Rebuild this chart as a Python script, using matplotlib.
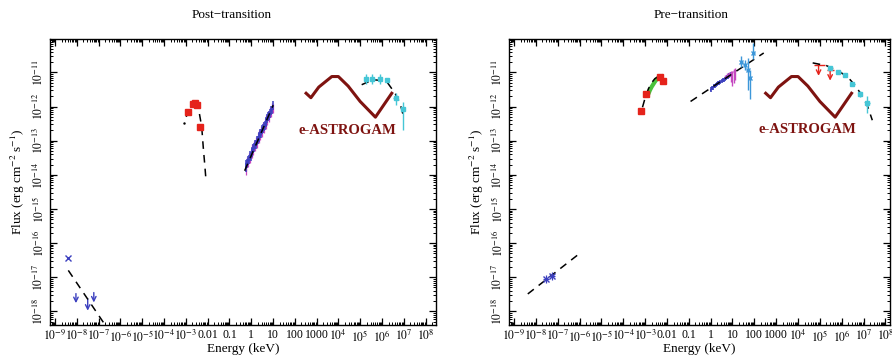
import matplotlib
matplotlib.use('Agg')
import matplotlib.pyplot as plt
from matplotlib.ticker import LogLocator, NullFormatter
import numpy as np

plt.rcParams['font.family'] = ['Liberation Serif', 'DejaVu Serif']
plt.rcParams['mathtext.fontset'] = 'stix'

# all values are log10(E / keV) and log10(flux / erg cm^-2 s^-1)

# ---- post-transition ----
post_radio_x = [-8.39]
post_radio_y = [-16.44]
post_ul_x = [-8.04, -7.50, -7.22]
post_ul_top = [-17.48, -17.63, -17.45]
post_ul_tip = [-17.76, -17.98, -17.74]
post_radio_model_x = [-8.39, -6.71]
post_radio_model_y = [-16.80, -18.39]

post_opt_x = [-2.89, -2.66, -2.58, -2.47, -2.35]
post_opt_y = [-12.15, -11.92, -11.90, -11.95, -12.59]
post_opt_dot_x = [-3.08]
post_opt_dot_y = [-12.48]
post_opt_model_x = [-2.98, -2.85, -2.72, -2.60, -2.50, -2.38, -2.27, -2.20, -2.13, -2.07]
post_opt_model_y = [-12.30, -12.10, -11.98, -11.92, -11.96, -12.19, -12.59, -13.18, -13.70, -14.18]

post_xray_x = [-0.26, -0.22, -0.18, -0.14, -0.10, -0.06, -0.02, 0.02, 0.06, 0.10, 0.14, 0.18,
               0.22, 0.26, 0.30, 0.34, 0.38, 0.42, 0.46, 0.50, 0.54, 0.58, 0.62, 0.66,
               0.70, 0.74, 0.78, 0.82, 0.86, 0.90, 0.94, 0.98]
post_xray_blue = [-13.78, -13.70, -13.66, -13.58, -13.56, -13.44, -13.46, -13.34, -13.30, -13.24,
                  -13.20, -13.10, -13.12, -13.00, -12.98, -12.90, -12.88, -12.78, -12.80, -12.68,
                  -12.64, -12.58, -12.56, -12.46, -12.44, -12.36, -12.30, -12.26, -12.20, -12.12,
                  -12.10, -11.98]
post_xray_mag = [-13.86, -13.74, -13.62, -13.64, -13.50, -13.50, -13.38, -13.36, -13.24, -13.28,
                 -13.14, -13.16, -13.04, -13.06, -12.92, -12.94, -12.82, -12.84, -12.70, -12.74,
                 -12.60, -12.62, -12.50, -12.52, -12.38, -12.40, -12.26, -12.30, -12.16, -12.18,
                 -12.04, -12.06]
post_xray_model_x = [-0.30, 1.01]
post_xray_model_y = [-13.88, -11.96]

post_gam_x = [5.26, 5.56, 5.91, 6.24, 6.63, 6.98]
post_gam_y = [-11.19, -11.19, -11.19, -11.21, -11.75, -12.08]
post_gam_lo = [0.15, 0.15, 0.15, 0.05, 0.20, 0.60]
post_gam_hi = [0.15, 0.15, 0.15, 0.05, 0.15, 0.20]
post_gam_model_x = [5.07, 5.60, 6.21, 6.60, 6.83, 7.01]
post_gam_model_y = [-11.36, -11.21, -11.26, -11.61, -11.90, -12.34]

# ---- pre-transition ----
pre_radio_x = [-7.54, -7.26]
pre_radio_y = [-17.05, -16.97]
pre_radio_model_x = [-8.37, -6.05]
pre_radio_model_y = [-17.49, -16.33]

pre_opt_x = [-3.17, -2.97, -2.33, -2.18]
pre_opt_y = [-12.12, -11.64, -11.12, -11.24]
pre_green_x = [-2.87, -2.78, -2.70, -2.62, -2.55, -2.48, -2.40, -2.33, -2.26]
pre_green_y = [-11.66, -11.52, -11.42, -11.34, -11.27, -11.21, -11.16, -11.14, -11.12]
pre_opt_model_x = [-3.12, -3.00, -2.85, -2.70, -2.55, -2.42, -2.30, -2.20]
pre_opt_model_y = [-12.02, -11.75, -11.48, -11.30, -11.18, -11.13, -11.14, -11.20]

pre_xray_x = [0.00, 0.05, 0.10, 0.15, 0.20, 0.25, 0.30, 0.35, 0.40, 0.45,
              0.50, 0.55, 0.60, 0.65, 0.70, 0.75, 0.80, 0.85, 0.90, 0.95]
pre_xray_y = [-11.50, -11.46, -11.45, -11.41, -11.40, -11.36, -11.35, -11.31, -11.30, -11.27,
              -11.25, -11.22, -11.21, -11.18, -11.16, -11.13, -11.12, -11.09, -11.07, -11.04]
pre_mag_x = [0.68, 0.76, 0.84, 0.92, 1.00, 1.06, 1.12]
pre_mag_y = [-11.12, -11.08, -11.05, -11.02, -11.00, -10.96, -10.93]
pre_mag_lo = [0.05, 0.06, 0.08, 0.25, 0.40, 0.35, 0.30]
pre_bat_x = [1.40, 1.55, 1.70, 1.78, 1.96]
pre_bat_y = [-10.68, -10.78, -10.92, -11.17, -10.43]
pre_bat_lo = [0.15, 0.15, 0.60, 0.60, 0.17]
pre_bat_hi = [0.15, 0.15, 0.35, 0.25, 0.30]
pre_xray_model_x = [-0.92, 2.43]
pre_xray_model_y = [-11.85, -10.43]

pre_ul_x = [4.94, 5.47]
pre_ul_xlo = [4.72, 5.34]
pre_ul_xhi = [5.25, 5.64]
pre_ul_top = [-10.77, -10.92]
pre_ul_tip = [-11.10, -11.24]
pre_gam_x = [5.47, 5.85, 6.16, 6.49, 6.84, 7.18]
pre_gam_y = [-10.87, -10.99, -11.07, -11.34, -11.63, -11.90]
pre_gam_lo = [0.05, 0.05, 0.05, 0.05, 0.08, 0.30]
pre_gam_hi = [0.05, 0.05, 0.05, 0.05, 0.08, 0.20]
pre_gam_model_x = [4.67, 5.30, 5.89, 6.30, 6.65, 7.00, 7.20, 7.40]
pre_gam_model_y = [-10.72, -10.80, -10.97, -11.15, -11.41, -11.75, -12.02, -12.40]

# e-ASTROGAM sensitivity (same in both panels)
astro_x = [2.52, 2.74, 3.10, 3.70, 4.00, 4.45, 5.00, 5.70, 6.45]
astro_y = [-11.61, -11.74, -11.43, -11.12, -11.12, -11.40, -11.85, -12.31, -11.61]

xtick_exp = list(range(-9, 9))
xtick_labels = ['$10^{-9}$', '$10^{-8}$', '$10^{-7}$', '$10^{-6}$', '$10^{-5}$', '$10^{-4}$',
                '$10^{-3}$', '0.01', '0.1', '1', '10', '100', '1000',
                '$10^{4}$', '$10^{5}$', '$10^{6}$', '$10^{7}$', '$10^{8}$']
ytick_exp = list(range(-18, -10))
ytick_labels = ['$10^{%d}$' % e for e in ytick_exp]

C_RED = '#e5231b'
C_BLUE = '#3b3fbf'
C_MAG = '#c548c0'
C_CYAN = '#45c6d6'
C_LBLUE = '#3d97d9'
C_GREEN = '#49c23c'
C_ASTRO = '#7e1310'


def p(v):
    return 10.0 ** np.asarray(v, dtype=float)


def dex(y, lo, hi):
    y = np.asarray(y, dtype=float)
    return [p(y) - p(y - np.asarray(lo)), p(y + np.asarray(hi)) - p(y)]


def dashed(ax, x, y):
    ax.plot(p(x), p(y), color='black', lw=1.1, ls=(0, (5, 4)), zorder=4)


def arrows(ax, x, top, tip, color):
    for xi, a, b in zip(x, top, tip):
        ax.annotate('', xy=(p(xi), p(b)), xytext=(p(xi), p(a)),
                    arrowprops=dict(arrowstyle='->', color=color, lw=1.0,
                                    shrinkA=0, shrinkB=0, mutation_scale=8))


def setup(ax, xmax):
    ax.set_xscale('log')
    ax.set_yscale('log')
    ax.set_xlim(10 ** -9.23, 10 ** xmax)
    ax.set_ylim(10 ** -18.4, 10 ** -10.02)
    ax.set_xticks(p(xtick_exp))
    ax.set_xticklabels(xtick_labels, fontsize=8.5)
    ax.set_yticks(p(ytick_exp))
    ax.set_yticklabels(ytick_labels, fontsize=8.5, rotation=90, va='center')
    ax.xaxis.set_minor_locator(LogLocator(base=10, subs=np.arange(2, 10), numticks=100))
    ax.yaxis.set_minor_locator(LogLocator(base=10, subs=np.arange(2, 10), numticks=100))
    ax.xaxis.set_minor_formatter(NullFormatter())
    ax.yaxis.set_minor_formatter(NullFormatter())
    ax.tick_params(which='both', direction='in', top=True, right=True, pad=3)
    ax.tick_params(which='major', length=5, width=0.9)
    ax.tick_params(which='minor', length=2.5, width=0.7)
    ax.tick_params(axis='x', pad=3)
    for s in ax.spines.values():
        s.set_linewidth(1.0)
    ax.set_xlabel('Energy (keV)', fontsize=9.5, labelpad=-1)
    ax.set_ylabel('Flux (erg cm$^{-2}$ s$^{-1}$)', fontsize=9.5, labelpad=3)


fig = plt.figure(figsize=(8.92, 3.58), dpi=100)
ax1 = fig.add_axes([50 / 892, 33 / 358, 386 / 892, 286 / 358])
ax2 = fig.add_axes([509 / 892, 33 / 358, 381 / 892, 286 / 358])

# ---------------- left: post-transition ----------------
setup(ax1, 8.48)
ax1.plot(p(post_radio_x), p(post_radio_y), 'x', color=C_BLUE, ms=5, mew=1.0)
arrows(ax1, post_ul_x, post_ul_top, post_ul_tip, C_BLUE)
dashed(ax1, post_radio_model_x, post_radio_model_y)

dashed(ax1, post_opt_model_x, post_opt_model_y)
ax1.plot(p(post_opt_x), p(post_opt_y), 's', color=C_RED, ms=4, zorder=5)
ax1.plot(p(post_opt_dot_x), p(post_opt_dot_y), '.', color='black', ms=1.5)

n = len(post_xray_x)
ax1.errorbar(p(post_xray_x), p(post_xray_mag), yerr=dex(post_xray_mag, [0.14] * n, [0.14] * n),
             xerr=dex(post_xray_x, [0.03] * n, [0.03] * n), fmt='none', ecolor=C_MAG, elinewidth=0.9)
ax1.errorbar(p(post_xray_x), p(post_xray_blue), yerr=dex(post_xray_blue, [0.13] * n, [0.13] * n),
             xerr=dex(post_xray_x, [0.03] * n, [0.03] * n), fmt='none', ecolor=C_BLUE, elinewidth=1.1)
dashed(ax1, post_xray_model_x, post_xray_model_y)

ax1.plot(p(astro_x), p(astro_y), color=C_ASTRO, lw=2.2, zorder=3)
ax1.text(10 ** 4.4, 10 ** -12.71, 'e-ASTROGAM', color=C_ASTRO, fontsize=10.5,
         fontweight='bold', ha='center', va='center')

m = len(post_gam_x)
ax1.errorbar(p(post_gam_x), p(post_gam_y), yerr=dex(post_gam_y, post_gam_lo, post_gam_hi),
             xerr=dex(post_gam_x, [0.1] * m, [0.1] * m), fmt='s', color=C_CYAN, ms=3.5,
             elinewidth=1.0, capsize=0, zorder=5)
dashed(ax1, post_gam_model_x, post_gam_model_y)

# ---------------- right: pre-transition ----------------
setup(ax2, 8.21)
k = len(pre_radio_x)
ax2.errorbar(p(pre_radio_x), p(pre_radio_y), yerr=dex(pre_radio_y, [0.12] * k, [0.12] * k),
             xerr=dex(pre_radio_x, [0.15] * k, [0.15] * k), fmt='x', color=C_BLUE, ms=5,
             mew=1.0, elinewidth=0.9, zorder=5)
dashed(ax2, pre_radio_model_x, pre_radio_model_y)

ax2.plot(p(pre_green_x), p(pre_green_y), color=C_GREEN, lw=3.0, zorder=3)
dashed(ax2, pre_opt_model_x, pre_opt_model_y)
ax2.plot(p(pre_opt_x), p(pre_opt_y), 's', color=C_RED, ms=4, zorder=5)

q = len(pre_xray_x)
ax2.errorbar(p(pre_xray_x), p(pre_xray_y), yerr=dex(pre_xray_y, [0.06] * q, [0.06] * q),
             xerr=dex(pre_xray_x, [0.03] * q, [0.03] * q), fmt='none', ecolor=C_BLUE, elinewidth=1.2)
r = len(pre_mag_x)
ax2.errorbar(p(pre_mag_x), p(pre_mag_y), yerr=dex(pre_mag_y, pre_mag_lo, [0.05] * r),
             xerr=dex(pre_mag_x, [0.03] * r, [0.03] * r), fmt='none', ecolor=C_MAG, elinewidth=1.0)
b = len(pre_bat_x)
ax2.errorbar(p(pre_bat_x), p(pre_bat_y), yerr=dex(pre_bat_y, pre_bat_lo, pre_bat_hi),
             xerr=dex(pre_bat_x, [0.06] * b, [0.06] * b), fmt='x', color=C_LBLUE, ms=3,
             elinewidth=1.0, zorder=5)
dashed(ax2, pre_xray_model_x, pre_xray_model_y)

ax2.plot(p(astro_x), p(astro_y), color=C_ASTRO, lw=2.2, zorder=3)
ax2.text(10 ** 4.45, 10 ** -12.68, 'e-ASTROGAM', color=C_ASTRO, fontsize=10.5,
         fontweight='bold', ha='center', va='center')

ax2.errorbar(p(pre_ul_x), p(pre_ul_top),
             xerr=[p(pre_ul_x) - p(pre_ul_xlo), p(pre_ul_xhi) - p(pre_ul_x)],
             fmt='none', ecolor=C_RED, elinewidth=1.0)
arrows(ax2, pre_ul_x, pre_ul_top, pre_ul_tip, C_RED)
g = len(pre_gam_x)
ax2.errorbar(p(pre_gam_x), p(pre_gam_y), yerr=dex(pre_gam_y, pre_gam_lo, pre_gam_hi),
             xerr=dex(pre_gam_x, [0.1] * g, [0.1] * g), fmt='s', color=C_CYAN, ms=3.5,
             elinewidth=1.0, capsize=0, zorder=5)
dashed(ax2, pre_gam_model_x, pre_gam_model_y)

fig.text(232 / 892, 1 - 15 / 358, 'Post\u2212transition', ha='center', va='center', fontsize=9.5)
fig.text(691 / 892, 1 - 15 / 358, 'Pre\u2212transition', ha='center', va='center', fontsize=9.5)

fig.savefig('out.png', dpi=100)
